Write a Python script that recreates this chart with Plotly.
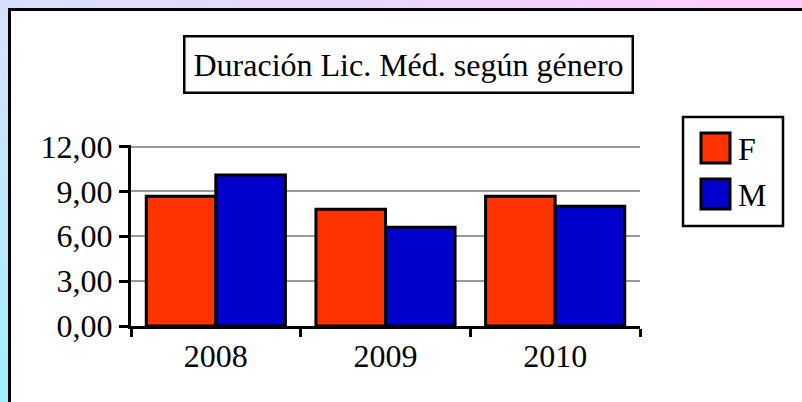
import plotly.graph_objects as go

years = ["2008", "2009", "2010"]
series_names = ["F", "M"]
values_F = [8.67, 7.80, 8.67]
values_M = [10.10, 6.60, 8.00]
y_ticks = [0, 3, 6, 9, 12]
title_text = "Duración Lic. Méd. según género"
colors = ["#ff3300", "#0000cc"]

W, H = 802, 402
L, R, T, B = 131, 640, 145, 326
SERIF = "Liberation Serif, Times New Roman, serif"


def px_x(p):
    return (p - L) / (R - L)


def px_y(p):
    return (B - p) / (B - T)


def lerp(c1, c2, t):
    return "rgb(%d,%d,%d)" % tuple(round(a + (b - a) * t) for a, b in zip(c1, c2))


fig = go.Figure()
for name, vals, col in zip(series_names, [values_F, values_M], colors):
    fig.add_trace(go.Bar(
        x=years, y=vals, name=name,
        marker=dict(color=col, line=dict(color="black", width=3)),
        showlegend=False,
    ))

shapes = []
# gradient background strips
tl, tr, bl = (216, 224, 255), (255, 204, 255), (160, 240, 255)
n = 80
for i in range(n):
    x0 = i * W / n
    x1 = (i + 1) * W / n + 1
    shapes.append(dict(type="rect", xref="paper", yref="paper", layer="below",
                       x0=px_x(x0), x1=px_x(x1), y0=px_y(0), y1=px_y(12),
                       fillcolor=lerp(tl, tr, i / (n - 1)), line=dict(width=0)))
m = 50
for i in range(m):
    y0 = 10 + i * (H - 10) / m
    y1 = 10 + (i + 1) * (H - 10) / m + 1
    shapes.append(dict(type="rect", xref="paper", yref="paper", layer="below",
                       x0=px_x(0), x1=px_x(10), y0=px_y(y0), y1=px_y(y1),
                       fillcolor=lerp(tl, bl, i / (m - 1)), line=dict(width=0)))
# white panel
shapes.append(dict(type="rect", xref="paper", yref="paper", layer="below",
                   x0=px_x(9.5), x1=px_x(820), y0=px_y(9.5), y1=px_y(420),
                   fillcolor="white", line=dict(color="black", width=3)))
# legend box
shapes.append(dict(type="rect", xref="paper", yref="paper",
                   x0=px_x(683), x1=px_x(783), y0=px_y(117), y1=px_y(226),
                   fillcolor="white", line=dict(color="black", width=2.5)))
annotations = []
for i, (name, col) in enumerate(zip(series_names, colors)):
    top = 133 + i * 46
    shapes.append(dict(type="rect", xref="paper", yref="paper",
                       x0=px_x(701), x1=px_x(730), y0=px_y(top), y1=px_y(top + 30),
                       fillcolor=col, line=dict(color="black", width=3)))
    annotations.append(dict(text=name, xref="paper", yref="paper",
                            x=px_x(736), y=px_y(top + 16), xanchor="left", yanchor="middle",
                            showarrow=False,
                            font=dict(family=SERIF, size=32, color="black")))

annotations.append(dict(text=title_text, xref="paper", yref="paper",
                        x=px_x(408.5), y=px_y(64.5), xanchor="center", yanchor="middle",
                        showarrow=False, width=444, height=52, borderpad=1,
                        bordercolor="black", borderwidth=2.5, bgcolor="white",
                        font=dict(family=SERIF, size=32, color="black")))

fig.update_layout(
    width=W, height=H,
    margin=dict(l=L, r=W - R, t=T, b=H - B, pad=0),
    paper_bgcolor="rgb(230,215,255)",
    plot_bgcolor="rgba(0,0,0,0)",
    barmode="group", bargap=0.18, bargroupgap=0,
    separators=",.",
    shapes=shapes, annotations=annotations,
    font=dict(family=SERIF, size=32, color="black"),
)
fig.update_xaxes(
    type="category", showline=True, linecolor="black", linewidth=3,
    ticks="outside", tickson="boundaries", ticklen=8, tickwidth=3, tickcolor="black",
    showgrid=False, tickfont=dict(family=SERIF, size=32),
)
fig.update_yaxes(
    range=[0, 12.1], tickvals=y_ticks, tickformat=".2f",
    showline=True, linecolor="black", linewidth=3,
    ticks="outside", ticklen=9, tickwidth=3, tickcolor="black",
    showgrid=True, gridcolor="#999999", gridwidth=2,
    zeroline=False, tickfont=dict(family=SERIF, size=32),
)

fig.write_html(
    "out.html",
    config={"displayModeBar": False},
    post_script="document.body.style.margin='0';document.body.style.overflow='hidden';",
)
